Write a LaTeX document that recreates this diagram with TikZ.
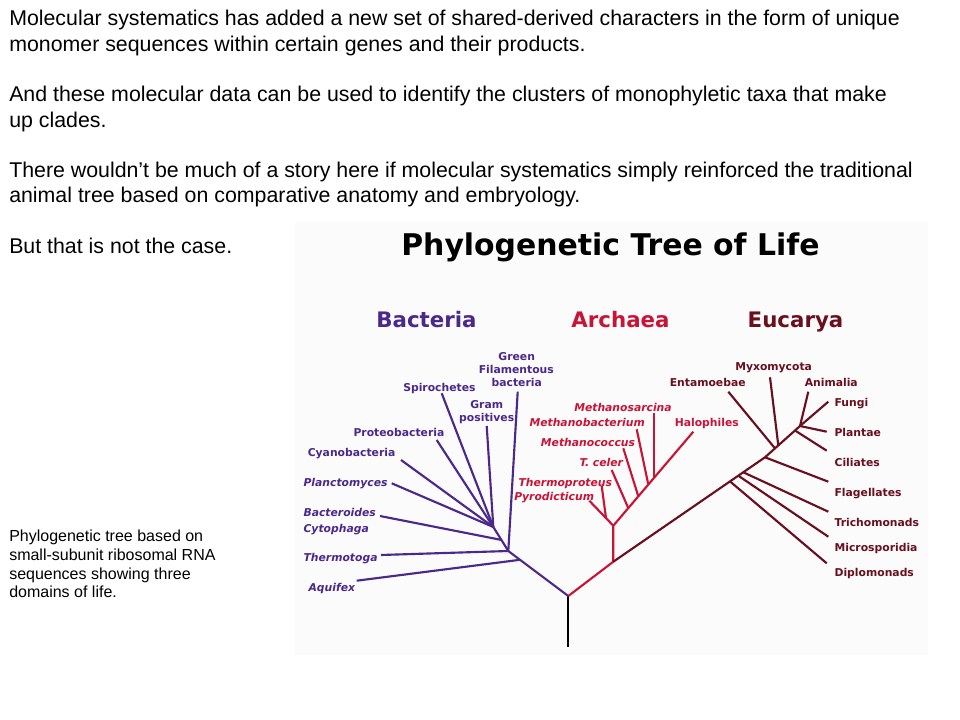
\documentclass[tikz,border=0pt]{standalone}
\usepackage{fontspec}
\setmainfont{Liberation Sans}
\newfontfamily\djv{DejaVu Sans}
\definecolor{bact}{RGB}{75,40,140}
\definecolor{arch}{RGB}{200,20,55}
\definecolor{euk}{RGB}{105,15,30}
\definecolor{imgbg}{RGB}{251,251,251}
\tikzset{
  txt/.style={anchor=base west, inner sep=0pt, font=\fontsize{16}{19}\selectfont},
  captxt/.style={anchor=base west, inner sep=0pt, font=\fontsize{12}{14}\selectfont},
  lab/.style={anchor=base west, inner sep=0pt, font=\djv\bfseries\fontsize{8.1}{9}\selectfont},
  labi/.style={anchor=base west, inner sep=0pt, font=\djv\bfseries\itshape\fontsize{8.1}{9}\selectfont},
  labc/.style={anchor=base, inner sep=0pt, font=\djv\bfseries\fontsize{8.1}{9}\selectfont},
  dom/.style={anchor=base, inner sep=0pt, font=\djv\bfseries\fontsize{16}{18}\selectfont},
  bline/.style={draw=bact, line width=1.6pt, line join=round},
  aline/.style={draw=arch, line width=1.6pt, line join=round},
  eline/.style={draw=euk, line width=1.6pt, line join=round},
  rline/.style={draw=black, line width=1.6pt},
}
\begin{document}
\begin{tikzpicture}[x=0.75pt,y=-0.75pt]
\fill[white] (0,0) rectangle (960,720);
\useasboundingbox (0,0) rectangle (960,720);
\fill[imgbg] (295,222) rectangle (928,655);

% main text
\node[txt] (t1) at (9,26) {Molecular systematics has added a new set of shared-derived characters in the form of unique};
\node[txt] (t2) at (9,51.3) {monomer sequences within certain genes and their products.};
\node[txt] (t3) at (9,102) {And these molecular data can be used to identify the clusters of monophyletic taxa that make};
\node[txt] (t4) at (9,127.3) {up clades.};
\node[txt] (t5) at (9,177.8) {There wouldn’t be much of a story here if molecular systematics simply reinforced the traditional};
\node[txt] (t6) at (9,203) {animal tree based on comparative anatomy and embryology.};
\node[txt] (t7) at (9,253.7) {But that is not the case.};

% caption
\node[captxt] (c1) at (9,541.7) {Phylogenetic tree based on};
\node[captxt] (c2) at (9,560.3) {small-subunit ribosomal RNA};
\node[captxt] (c3) at (9,579) {sequences showing three};
\node[captxt] (c4) at (9,597.7) {domains of life.};

% title and domains
\node[anchor=base, inner sep=0pt, font=\djv\bfseries\fontsize{22.4}{26}\selectfont] (title) at (610.5,256) {Phylogenetic Tree of Life};
\node[dom, text=bact] (dB) at (426.5,327) {Bacteria};
\node[dom, text=arch] (dA) at (620.5,327) {Archaea};
\node[dom, text=euk] (dE) at (795.5,327) {Eucarya};

% coordinates
\coordinate (R0) at (568.3,646.7);
\coordinate (R) at (568.3,596);
\coordinate (B1) at (508.3,551);
\coordinate (B2) at (493.3,527);
\coordinate (Bj) at (501.7,540);
\coordinate (Aj) at (520,559.8);
\coordinate (eGreen) at (517.7,391.7);
\coordinate (eSpiro) at (441.7,393.3);
\coordinate (eGram) at (486.7,426);
\coordinate (eProt) at (436.7,440);
\coordinate (eCyan) at (401,460);
\coordinate (ePlanc) at (391.7,483.3);
\coordinate (eBact) at (380,516);
\coordinate (eTherm) at (381,555);
\coordinate (eAqui) at (356.7,580.7);

\coordinate (A0) at (613.3,561.7);
\coordinate (A1) at (613.3,525.7);
\coordinate (ePyro) at (589.3,500.7);
\coordinate (jTp) at (606,518);
\coordinate (eTp) at (601.7,486);
\coordinate (eHalo) at (693.3,431.7);
\coordinate (jTc) at (628.3,508.1);
\coordinate (eTc) at (611.7,470);
\coordinate (jMc) at (638.3,496.3);
\coordinate (eMc) at (623.3,448.3);
\coordinate (jMb) at (648.3,484.6);
\coordinate (eMb) at (636.7,429.3);
\coordinate (jMs) at (654.3,477.5);
\coordinate (eMs) at (654.3,413.3);

\coordinate (E1) at (730,481.4);
\coordinate (E2) at (738.3,475.7);
\coordinate (E3) at (743.3,472.3);
\coordinate (E4) at (765,457.3);
\coordinate (E5a) at (775,448.4);
\coordinate (E5b) at (778.3,445.4);
\coordinate (E6) at (795,430.5);
\coordinate (E7) at (800,426);
\coordinate (eFungi) at (828.3,401.7);
\coordinate (eDiplo) at (826.7,563.3);
\coordinate (eMicro) at (828.3,536.7);
\coordinate (eTrich) at (828.3,511.7);
\coordinate (eFlag) at (828.3,481.7);
\coordinate (eCil) at (826.7,450.7);
\coordinate (ePlant) at (826.7,431.7);
\coordinate (eAnim) at (808.3,391.7);
\coordinate (eMyxo) at (770,377.3);
\coordinate (eEnt) at (728.3,391.7);

% tree lines
\draw[rline] (R0) -- (R);
\draw[bline] (R) -- (B1) -- (B2);
\draw[bline] (B1) -- (eGreen);
\draw[bline] (B1) -- (eTherm);
\draw[bline] (Aj) -- (eAqui);
\draw[bline] (Bj) -- (eBact);
\draw[bline] (B2) -- (eSpiro);
\draw[bline] (B2) -- (eGram);
\draw[bline] (B2) -- (eProt);
\draw[bline] (B2) -- (eCyan);
\draw[bline] (B2) -- (ePlanc);

\draw[aline] (R) -- (A0) -- (A1) -- (eHalo);
\draw[aline] (A1) -- (ePyro);
\draw[aline] (jTp) -- (eTp);
\draw[aline] (jTc) -- (eTc);
\draw[aline] (jMc) -- (eMc);
\draw[aline] (jMb) -- (eMb);
\draw[aline] (jMs) -- (eMs);

\draw[eline] (A0) -- (E4) -- (E7) -- (eFungi);
\draw[eline] (E1) -- (eDiplo);
\draw[eline] (E2) -- (eMicro);
\draw[eline] (E3) -- (eTrich);
\draw[eline] (E4) -- (eFlag);
\draw[eline] (E6) -- (eCil);
\draw[eline] (E7) -- (ePlant);
\draw[eline] (E7) -- (eAnim);
\draw[eline] (E5b) -- (eMyxo);
\draw[eline] (E5a) -- (eEnt);

% bacteria labels
\node[labc, text=bact] (lGreen1) at (516.7,360) {Green};
\node[labc, text=bact] (lGreen2) at (516.3,373.3) {Filamentous};
\node[labc, text=bact] (lGreen3) at (516.7,386.7) {bacteria};
\node[lab, text=bact] (lSpiro) at (403,391.7) {Spirochetes};
\node[labc, text=bact] (lGram1) at (486.7,408.3) {Gram};
\node[labc, text=bact] (lGram2) at (486.7,421.7) {positives};
\node[lab, text=bact] (lProt) at (353.3,436.7) {Proteobacteria};
\node[lab, text=bact] (lCyan) at (307.5,456.7) {Cyanobacteria};
\node[labi, text=bact] (lPlanc) at (303.3,486.7) {Planctomyces};
\node[labi, text=bact] (lBact) at (303.3,516.7) {Bacteroides};
\node[labi, text=bact] (lCyto) at (303.3,532.2) {Cytophaga};
\node[labi, text=bact] (lTherm) at (303.3,561.7) {Thermotoga};
\node[labi, text=bact] (lAqui) at (308.3,591.7) {Aquifex};

% archaea labels
\node[labi, text=arch] (lMs) at (574,411.7) {Methanosarcina};
\node[labi, text=arch] (lMb) at (529.3,426.7) {Methanobacterium};
\node[labi, text=arch] (lMc) at (540.7,446) {Methanococcus};
\node[labi, text=arch] (lTc) at (579.3,466.7) {T. celer};
\node[labi, text=arch] (lTp) at (518.3,486) {Thermoproteus};
\node[labi, text=arch] (lPyro) at (514,500.7) {Pyrodicticum};
\node[lab, text=arch] (lHalo) at (674.5,426) {Halophiles};

% eucarya labels
\node[lab, text=euk] (lMyxo) at (735,370.7) {Myxomycota};
\node[lab, text=euk] (lEnt) at (669.5,386.7) {Entamoebae};
\node[lab, text=euk] (lAnim) at (804.5,386) {Animalia};
\node[lab, text=euk] (lFungi) at (834.3,406.7) {Fungi};
\node[lab, text=euk] (lPlant) at (834.3,436.7) {Plantae};
\node[lab, text=euk] (lCil) at (834.3,466.7) {Ciliates};
\node[lab, text=euk] (lFlag) at (834.3,496.7) {Flagellates};
\node[lab, text=euk] (lTrich) at (834.3,526.7) {Trichomonads};
\node[lab, text=euk] (lMicro) at (834.3,551.7) {Microsporidia};
\node[lab, text=euk] (lDiplo) at (834.3,576.7) {Diplomonads};
\end{tikzpicture}
\end{document}
